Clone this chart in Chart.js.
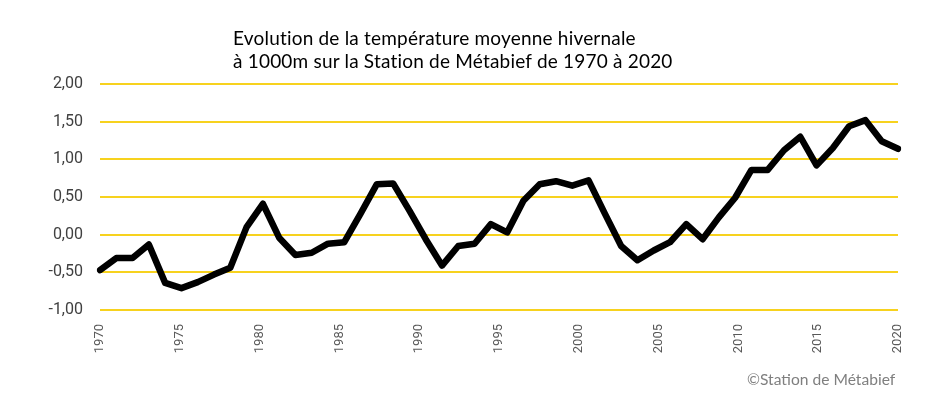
<!DOCTYPE html>
<html lang="fr">
<head>
<meta charset="UTF-8">
<title>Température moyenne hivernale - Métabief</title>
<script src="https://cdn.jsdelivr.net/npm/chart.js"></script>
<style>
    body { margin: 0; padding: 0; background: #fff; }
    #wrap { position: relative; width: 949px; height: 401px; }
    #title { position: absolute; left: 233px; top: 26px; font-family: Lato, sans-serif; font-size: 19px; letter-spacing: 0.2px; line-height: 23px; color: #000; }
    #credit { position: absolute; left: 747px; top: 370px; font-family: Lato, sans-serif; font-size: 15.6px; color: #7f7f7f; }
</style>
</head>
<body>
<div id="wrap">
    <canvas id="tempChart" width="949" height="401"></canvas>
    <div id="title">Evolution de la température moyenne hivernale<br>à 1000m sur la Station de Métabief de 1970 à 2020</div>
    <div id="credit">©Station de Métabief</div>
</div>
<script>
    // one value per winter, 50 winters
    const winters = [1971, 1972, 1973, 1974, 1975, 1976, 1977, 1978, 1979, 1980,
                     1981, 1982, 1983, 1984, 1985, 1986, 1987, 1988, 1989, 1990,
                     1991, 1992, 1993, 1994, 1995, 1996, 1997, 1998, 1999, 2000,
                     2001, 2002, 2003, 2004, 2005, 2006, 2007, 2008, 2009, 2010,
                     2011, 2012, 2013, 2014, 2015, 2016, 2017, 2018, 2019, 2020];
    const temps = [-0.47, -0.31, -0.31, -0.13, -0.64, -0.71, -0.63, -0.53, -0.44, 0.10,
                   0.41, -0.04, -0.27, -0.24, -0.12, -0.10, 0.28, 0.67, 0.68, 0.32,
                   -0.06, -0.41, -0.15, -0.12, 0.14, 0.03, 0.45, 0.67, 0.71, 0.65,
                   0.72, 0.28, -0.15, -0.34, -0.21, -0.10, 0.14, -0.06, 0.23, 0.49,
                   0.86, 0.86, 1.12, 1.30, 0.92, 1.15, 1.44, 1.52, 1.24, 1.14];
    const yearTicks = { min: 1970, max: 2020, step: 5 };
    const tempTicks = { min: -1, max: 2, step: 0.5 };

    const ctx = document.getElementById('tempChart').getContext('2d');
    const chart = new Chart(ctx, {
        type: 'line',
        data: {
            labels: winters.map(String),
            datasets: [{
                label: 'Température moyenne hivernale',
                data: temps,
                xAxisID: 'x',
                yAxisID: 'y',
                borderColor: '#000',
                borderWidth: 6.5,
                borderJoinStyle: 'round',
                borderCapStyle: 'round',
                pointRadius: 0,
                tension: 0,
                fill: false
            }]
        },
        options: {
            responsive: false,
            animation: false,
            layout: { padding: { left: 0, right: 51, top: 84, bottom: 0 } },
            plugins: {
                legend: { display: false },
                tooltip: { enabled: false }
            },
            scales: {
                x: {
                    type: 'category',
                    display: false,
                    offset: false
                },
                years: {
                    type: 'linear',
                    position: 'bottom',
                    min: yearTicks.min,
                    max: yearTicks.max,
                    grid: { display: false },
                    border: { display: false },
                    afterFit: (scale) => { scale.height = 91; },
                    ticks: {
                        stepSize: yearTicks.step,
                        minRotation: 90,
                        maxRotation: 90,
                        padding: 6,
                        color: '#595959',
                        font: { family: 'Roboto', size: 13 },
                        callback: (v) => String(v)
                    }
                },
                y: {
                    min: tempTicks.min,
                    max: tempTicks.max,
                    afterFit: (scale) => { scale.width = 100; },
                    border: { display: false },
                    grid: { color: '#f7d21e', lineWidth: 2, drawTicks: false },
                    ticks: {
                        stepSize: tempTicks.step,
                        padding: 17,
                        color: '#404040',
                        font: { family: 'Roboto', size: 16 },
                        callback: (v) => v.toFixed(2).replace('.', ',')
                    }
                }
            }
        }
    });
</script>
</body>
</html>
